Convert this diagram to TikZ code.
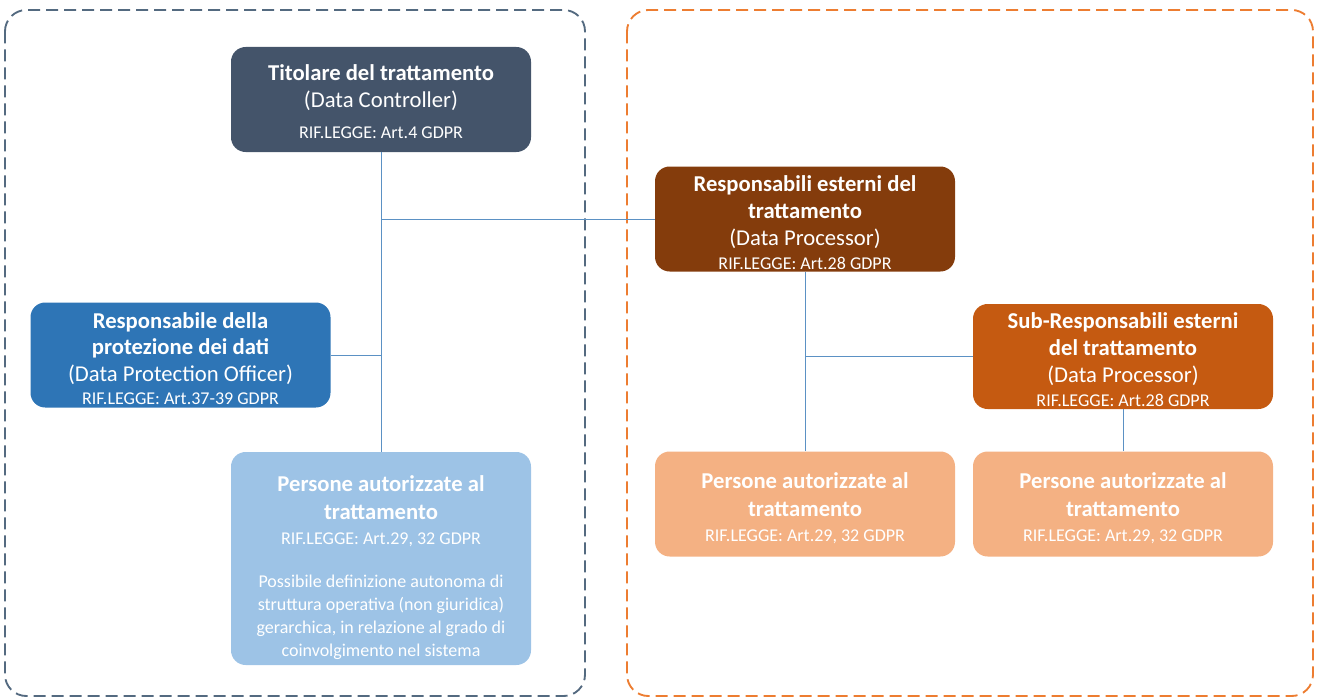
\documentclass[tikz,border=0pt]{standalone}
\usepackage{fontspec}
\setmainfont{Carlito}
\definecolor{slate}{RGB}{68,84,106}
\definecolor{dpoblue}{RGB}{46,117,182}
\definecolor{paleblue}{RGB}{157,195,230}
\definecolor{brown}{RGB}{132,60,12}
\definecolor{rust}{RGB}{197,90,17}
\definecolor{peach}{RGB}{244,177,131}
\definecolor{linkcol}{RGB}{91,145,196}
\definecolor{frameblue}{RGB}{84,106,128}
\definecolor{frameorange}{RGB}{237,125,49}
\newcommand{\riflegge}[1]{{\fontsize{13.5}{14}\selectfont RIF.LEGGE: #1}}
\newcommand{\nota}[1]{{\fontsize{13.5}{14}\selectfont #1}}
% pushes the text block of a box down by half the given length
\newcommand{\lowerby}[1]{\rule{0pt}{\dimexpr\fontcharht\font`(+#1\relax}}
\tikzset{
  rolebox/.style={rounded corners=11pt, text=white, align=center, inner sep=0pt,
    minimum width=225pt, minimum height=78.75pt, font=\fontsize{17}{21}\selectfont},
  frame/.style={dash pattern=on 9pt off 4.5pt, line width=1.4pt, rounded corners=16pt},
  link/.style={draw=linkcol, line width=0.75pt}
}
\begin{document}
\begin{tikzpicture}[x=0.75pt,y=0.75pt,yscale=-1,xscale=1]
\useasboundingbox (0,0) rectangle (1320,699);

%Shape: Rectangle (dashed frames)
\draw [frame, draw=frameblue] (5,10) rectangle (585,696);
\draw [frame, draw=frameorange] (627,10) rectangle (1313,696);

%Shape: Rectangle (left side)
\node [rolebox, fill=slate] (tit) at (381,99.5)
  {\lowerby{3pt}\textbf{Titolare del trattamento}\\[-0.75pt](Data Controller)\\[2.25pt]\riflegge{Art.4 GDPR}};
\node [rolebox, fill=dpoblue] (dpo) at (180.5,355)
  {\lowerby{4.5pt}\textbf{Responsabile della}\\[-1.5pt]\textbf{protezione dei dati}\\[-0.75pt](Data Protection Officer)\\[-3.75pt]\riflegge{Art.37-39 GDPR}};
\node [rolebox, fill=paleblue, minimum height=159.75pt] (perA) at (381,558.5)
  {\lowerby{12.75pt}\textbf{Persone autorizzate al}\\\textbf{trattamento}\\[-2.25pt]\riflegge{Art.29, 32 GDPR}\\[11.25pt]
   \nota{Possibile definizione autonoma di}\\[-3.75pt]
   \nota{struttura operativa (non giuridica)}\\[-3.75pt]
   \nota{gerarchica, in relazione al grado di}\\[-3.75pt]
   \nota{coinvolgimento nel sistema}};

%Shape: Rectangle (right side)
\node [rolebox, fill=brown] (resp) at (805,219)
  {\lowerby{5pt}\textbf{Responsabili esterni del}\\[-0.75pt]\textbf{trattamento}\\[-0.75pt](Data Processor)\\[-3pt]\riflegge{Art.28 GDPR}};
\node [rolebox, fill=rust] (sub) at (1123,356.5)
  {\lowerby{4.5pt}\textbf{Sub-Responsabili esterni}\\[-0.75pt]\textbf{del trattamento}\\[-0.75pt](Data Processor)\\[-3pt]\riflegge{Art.28 GDPR}};
\node [rolebox, fill=peach] (perB) at (805,504)
  {\lowerby{6pt}\textbf{Persone autorizzate al}\\\textbf{trattamento}\\[-2.25pt]\riflegge{Art.29, 32 GDPR}};
\node [rolebox, fill=peach] (perC) at (1123,504)
  {\lowerby{6pt}\textbf{Persone autorizzate al}\\\textbf{trattamento}\\[-2.25pt]\riflegge{Art.29, 32 GDPR}};

%Straight Lines
\draw [link] (tit.south) -- (perA.north);
\draw [link] (tit.south |- resp.west) -- (resp.west);
\draw [link] (dpo.east) -- (tit.south |- dpo.east);
\draw [link] (resp.south) -- (perB.north);
\draw [link] (resp.south |- sub.west) -- (sub.west);
\draw [link] (sub.south) -- (perC.north);

\end{tikzpicture}
\end{document}
